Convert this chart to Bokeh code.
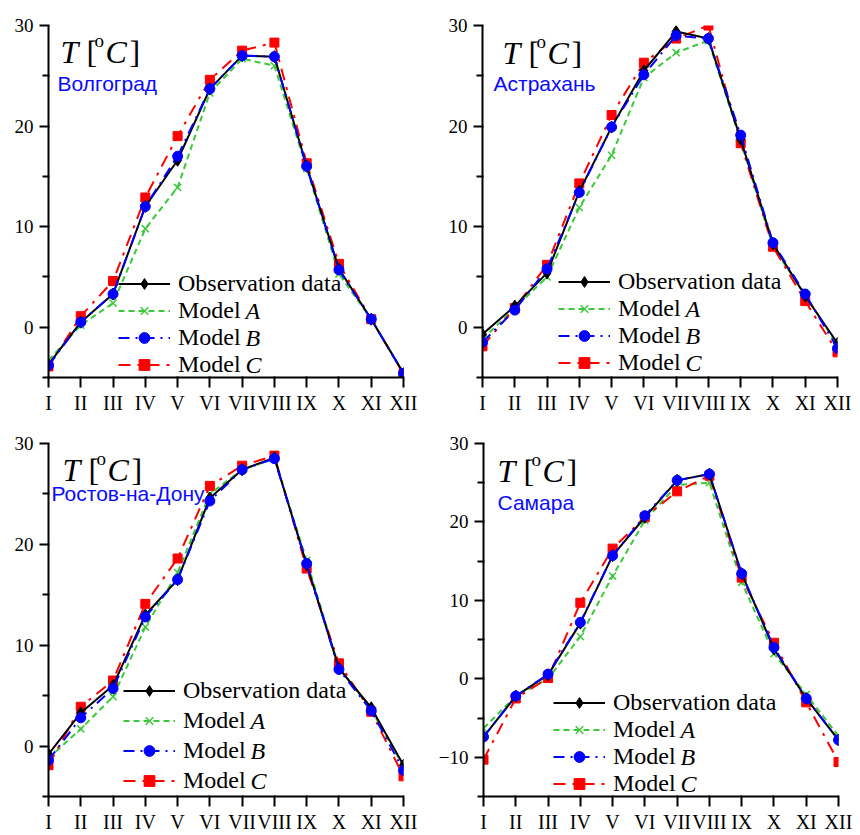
from bokeh.plotting import figure
from bokeh.layouts import column, row
from bokeh.models import FixedTicker, Range1d, Legend, LegendItem, Label
from bokeh.embed import file_html
from bokeh.resources import INLINE

# ---------------- data ----------------
MONTHS = ["I", "II", "III", "IV", "V", "VI", "VII", "VIII", "IX", "X", "XI", "XII"]
CITIES = ["Волгоград", "Астрахань", "Ростов-на-Дону", "Самара"]
SERIES_LABELS = ["Observation data", "Model", "Model", "Model"]
MODEL_LETTERS = ["A", "B", "C"]

volgograd_obs = [-3.7, 0.5, 3.3, 12.0, 16.6, 23.7, 27.0, 26.9, 16.0, 5.8, 0.8, -4.6]
volgograd_a = [-3.3, 0.2, 2.4, 9.8, 13.9, 23.3, 26.7, 26.0, 15.8, 5.3, 0.8, -4.5]
volgograd_b = [-3.8, 0.5, 3.3, 12.0, 17.0, 23.7, 27.0, 26.9, 16.0, 5.7, 0.8, -4.6]
volgograd_c = [-3.9, 1.1, 4.6, 12.9, 19.0, 24.6, 27.5, 28.3, 16.3, 6.3, 0.8, -4.6]

astrakhan_obs = [-0.7, 2.1, 5.4, 13.5, 19.9, 25.5, 29.4, 28.7, 18.7, 8.3, 3.1, -1.6]
astrakhan_a = [-1.2, 1.9, 5.0, 11.9, 17.1, 24.8, 27.3, 28.5, 18.5, 8.0, 3.2, -1.8]
astrakhan_b = [-1.5, 1.7, 5.8, 13.4, 19.9, 25.1, 29.0, 28.7, 19.1, 8.4, 3.3, -2.1]
astrakhan_c = [-1.9, 1.9, 6.2, 14.3, 21.1, 26.3, 28.7, 30.0, 18.3, 8.0, 2.6, -2.5]

rostov_obs = [-0.8, 3.3, 6.0, 13.0, 16.5, 24.6, 27.4, 28.6, 18.0, 7.7, 3.8, -1.9]
rostov_a = [-1.2, 1.7, 4.9, 11.8, 17.2, 25.0, 27.4, 28.5, 18.4, 7.8, 3.6, -2.0]
rostov_b = [-1.4, 2.8, 5.7, 12.8, 16.5, 24.3, 27.4, 28.5, 18.1, 7.6, 3.5, -2.4]
rostov_c = [-1.9, 3.9, 6.5, 14.1, 18.6, 25.8, 27.8, 28.8, 17.6, 8.2, 3.4, -3.0]

samara_obs = [-7.4, -2.2, 0.5, 7.1, 15.7, 20.6, 25.3, 26.1, 13.4, 3.8, -2.5, -7.8]
samara_a = [-6.3, -2.2, 0.0, 5.4, 13.1, 20.2, 24.7, 25.0, 12.3, 3.2, -2.0, -7.3]
samara_b = [-7.4, -2.2, 0.6, 7.2, 15.7, 20.8, 25.3, 26.1, 13.4, 4.0, -2.5, -7.8]
samara_c = [-10.3, -2.5, 0.1, 9.7, 16.6, 20.6, 23.9, 25.9, 12.9, 4.6, -3.0, -10.6]

Y_MIN = [-5, -5, -5, -15]
Y_MAX = [30, 30, 30, 30]
Y_MAJOR = [[0, 10, 20, 30], [0, 10, 20, 30], [0, 10, 20, 30], [-10, 0, 10, 20, 30]]
Y_MINOR = [[-5, 5, 15, 25], [-5, 5, 15, 25], [-5, 5, 15, 25], [-15, -5, 5, 15, 25]]

DATA = [
    (volgograd_obs, volgograd_a, volgograd_b, volgograd_c),
    (astrakhan_obs, astrakhan_a, astrakhan_b, astrakhan_c),
    (rostov_obs, rostov_a, rostov_b, rostov_c),
    (samara_obs, samara_a, samara_b, samara_c),
]

# ---------------- styles / layout ----------------
SERIF = "Liberation Serif"
SANS = "Liberation Sans"
# (width, height, border left, right, top, bottom, frame height)
GEOM = [
    (430, 417, 48, 27, 25, 38, 354),
    (430, 417, 52, 23, 23, 40, 354),
    (430, 418, 48, 27, 26, 38, 354),
    (430, 418, 53, 22, 26, 37, 355),
]
# title (T) offset x, baseline below top; city offset x, baseline below top
TITLE_POS = [(12, 28, 9, 60), (20, 29, 11, 60), (14, 27, 3, 51), (14, 29, 14, 61)]
# legend x offset, legend bottom offset, row spacing
LEG_POS = [(70, -1, 0), (76, 1, 0), (75, 2, 3), (70, -1, 0)]

STYLE = {
    "obs": dict(color="#000000", dash="solid", marker="diamond", size=12),
    "a": dict(color="#3cc83c", dash="6 4", marker="x", size=10),
    "b": dict(color="#0000ff", dash="11 6 2 6", marker="circle", size=10),
    "c": dict(color="#ff0000", dash="12 7 3 7", marker="square", size=9),
}

xs = list(range(1, len(MONTHS) + 1))


def make_panel(i):
    w, h, bl, br, bt, bb, fh = GEOM[i]
    p = figure(width=w, height=h, x_range=Range1d(1, 12), y_range=Range1d(Y_MIN[i], Y_MAX[i]),
               output_backend="svg", toolbar_location=None,
               min_border_left=bl, min_border_right=br, min_border_top=bt, min_border_bottom=bb)
    p.outline_line_color = None
    p.grid.visible = False
    p.background_fill_color = "white"
    p.border_fill_color = "white"

    xa = p.xaxis[0]
    xa.ticker = FixedTicker(ticks=xs, minor_ticks=[])
    xa.major_label_overrides = {x: m for x, m in zip(xs, MONTHS)}
    xa.major_label_text_font = SERIF
    xa.major_label_text_font_size = "20px"
    xa.major_label_text_color = "black"
    xa.major_label_standoff = 4
    xa.major_tick_out = 10
    xa.major_tick_in = 1
    xa.minor_tick_out = 0
    xa.minor_tick_in = 0
    xa.axis_line_width = 2
    xa.axis_line_color = "black"
    xa.major_tick_line_width = 2
    xa.major_tick_line_color = "black"

    ya = p.yaxis[0]
    ya.ticker = FixedTicker(ticks=Y_MAJOR[i], minor_ticks=Y_MINOR[i])
    ya.major_label_text_font = SERIF
    ya.major_label_text_font_size = "19px"
    ya.major_label_text_color = "black"
    ya.major_label_standoff = 6
    ya.major_tick_out = 9
    ya.major_tick_in = 1
    ya.minor_tick_out = 6
    ya.minor_tick_in = 1
    ya.axis_line_width = 2
    ya.axis_line_color = "black"
    ya.major_tick_line_width = 2
    ya.major_tick_line_color = "black"
    ya.minor_tick_line_width = 2
    ya.minor_tick_line_color = "black"

    obs, a, b, c = DATA[i]
    series = {"obs": obs, "a": a, "b": b, "c": c}
    rends = {}
    for key in ["a", "c", "obs", "b"]:
        st = STYLE[key]
        ys = series[key]
        rl = p.line(xs, ys, line_color=st["color"], line_width=2, line_dash=st["dash"])
        if st["marker"] == "x":
            rm = p.scatter(xs, ys, marker="x", size=st["size"], line_color=st["color"], line_width=1.5)
        else:
            rm = p.scatter(xs, ys, marker=st["marker"], size=st["size"],
                           fill_color=st["color"], line_color=st["color"])
        rends[key] = [rl, rm]

    lx, lb, sp = LEG_POS[i]
    items = [LegendItem(label=lab, renderers=rends[k])
             for lab, k in zip(SERIES_LABELS, ["obs", "a", "b", "c"])]
    legend = Legend(items=items, location=(lx, lb), orientation="vertical",
                    background_fill_alpha=0, border_line_alpha=0, padding=0, margin=0,
                    spacing=sp, glyph_width=52, glyph_height=27, label_height=27,
                    label_standoff=8, label_text_font=SERIF, label_text_font_size="24px",
                    label_text_color="black")
    p.add_layout(legend, "center")

    # italic model letters following "Model"
    row_h = 27
    text_x = lx + 52 + 8 + 67
    for j, letter in enumerate(MODEL_LETTERS):
        k = j + 1
        yc = lb + (3 - k) * (row_h + sp) + row_h / 2
        p.add_layout(Label(x=text_x, y=yc, x_units="screen", y_units="screen", text=letter,
                           text_font=SERIF, text_font_style="italic", text_font_size="24px",
                           text_baseline="middle", text_align="left", text_color="black"))

    # title T [°C]
    tx, tb, cx, cb = TITLE_POS[i]
    base = fh - tb
    parts = [("T", 0, 0, "italic", "32px"), ("[", 26, 0, "normal", "32px"),
             ("o", 34, 11, "normal", "19px"), ("C", 45, 0, "italic", "32px"),
             ("]", 69, 0, "normal", "32px")]
    for txt, dx, dy, style, size in parts:
        p.add_layout(Label(x=tx + dx, y=base + dy, x_units="screen", y_units="screen", text=txt,
                           text_font=SERIF, text_font_style=style, text_font_size=size,
                           text_baseline="alphabetic", text_align="left", text_color="black"))
    p.add_layout(Label(x=cx, y=fh - cb, x_units="screen", y_units="screen", text=CITIES[i],
                       text_font=SANS, text_font_size="21px", text_baseline="alphabetic",
                       text_align="left", text_color="#0a0aff"))
    return p


panels = [make_panel(i) for i in range(4)]
layout = column(row(panels[0], panels[1]), row(panels[2], panels[3]))

open("out.html", "w").write(file_html(layout, INLINE))
